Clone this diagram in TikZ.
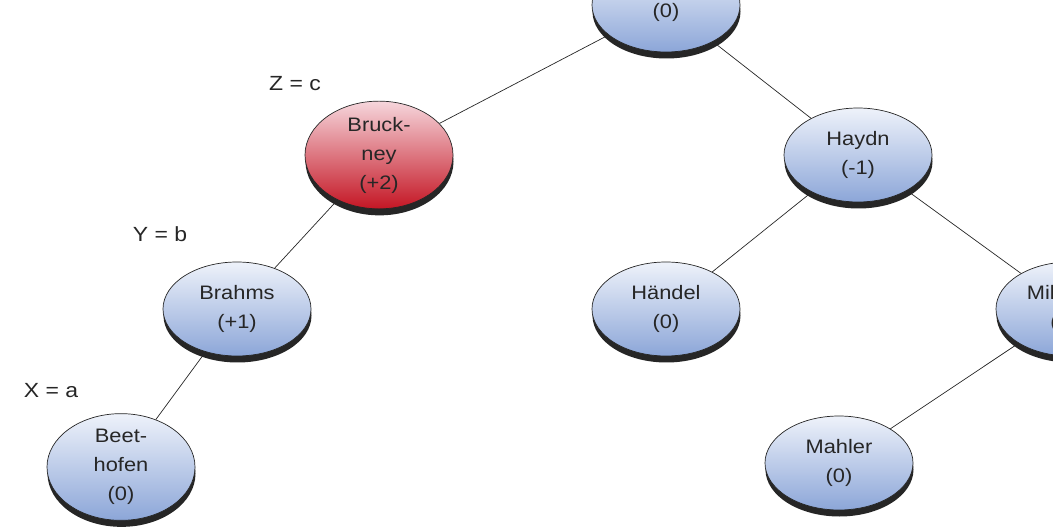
\documentclass[tikz,border=0pt]{standalone}
\usepackage{fontspec}
\setmainfont[FakeStretch=1.12]{Liberation Sans}
\usetikzlibrary{shapes.geometric,shadows}
\definecolor{bluetop}{RGB}{238,242,250}
\definecolor{bluebot}{RGB}{140,166,216}
\definecolor{redtop}{RGB}{246,214,220}
\definecolor{redbot}{RGB}{196,22,36}
\definecolor{txt}{RGB}{38,38,38}
\tikzset{
  avl/.style={ellipse, draw=black!85, line width=0.7pt, inner sep=0pt,
    minimum width=148pt, minimum height=94pt, align=center,
    text=txt, font=\fontsize{19.5}{29}\selectfont,
    drop shadow={shadow xshift=0.5pt, shadow yshift=-6.5pt, fill=black!85, opacity=1}},
  bluenode/.style={avl, top color=bluetop, bottom color=bluebot},
  rednode/.style={avl, top color=redtop, bottom color=redbot},
  edge/.style={draw=black!85, line width=0.7pt},
  tag/.style={text=txt, font=\fontsize{20.5}{24}\selectfont, inner sep=0pt}
}
\begin{document}
\begin{tikzpicture}[x=1pt,y=-1pt]
\useasboundingbox (0,0) rectangle (1053,529);
\clip (0,0) rectangle (1053,529);
% tree nodes
\node[bluenode] (root) at (666,5) {\mbox{}\\(0)};
\node[rednode]  (bru)  at (379,155) {Bruck-\\ney\\(+2)};
\node[bluenode] (hay)  at (858,155) {Haydn\\(-1)};
\node[bluenode] (bra)  at (237,309) {Brahms\\(+1)};
\node[bluenode] (han)  at (666,309) {Händel\\(0)};
\node[bluenode] (mil)  at (1070,309) {Millöcker\\(+1)};
\node[bluenode] (bee)  at (121,467) {Beet-\\hofen\\(0)};
\node[bluenode] (mah)  at (839,463) {Mahler\\(0)};
% rotation labels
\node[tag] (z) at (295,84) {Z = c};
\node[tag] (y) at (160,234) {Y = b};
\node[tag] (x) at (51,391) {X = a};
% edges drawn between node borders
\draw[edge] (root) -- (bru);
\draw[edge] (root) -- (hay);
\draw[edge] (bru) -- (bra);
\draw[edge] (bra) -- (bee);
\draw[edge] (hay) -- (han);
\draw[edge] (hay) -- (mil);
\draw[edge] (mil) -- (mah);
\end{tikzpicture}
\end{document}
